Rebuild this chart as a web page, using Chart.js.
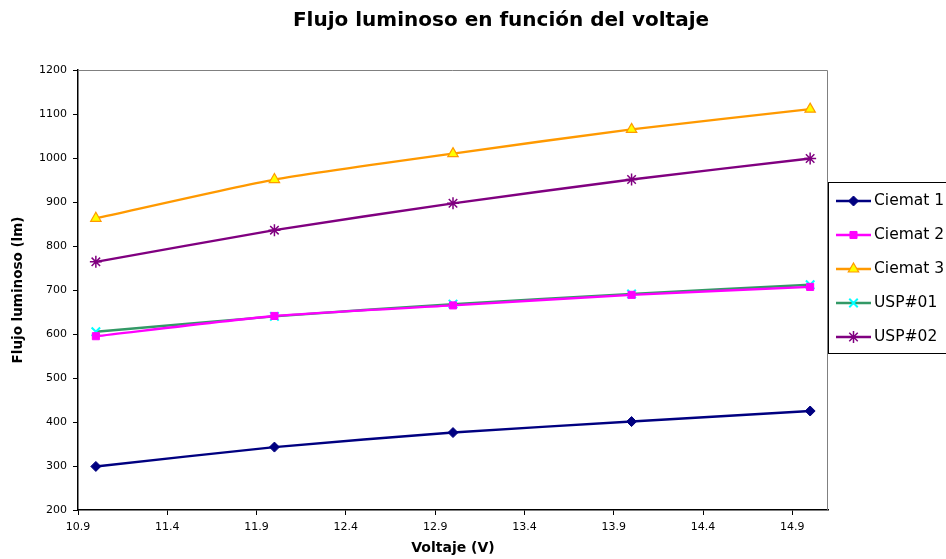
<!DOCTYPE html>
<html><head><meta charset="utf-8">
<script src="https://cdn.jsdelivr.net/npm/chart.js@4/dist/chart.umd.min.js"></script>
<style>html,body{margin:0;padding:0;background:#fff;}#wrap{width:946px;height:559px;position:relative;}</style>
</head><body><div id="wrap"><canvas id="c" width="946" height="559"></canvas></div>
<script>
const voltages = [11, 12, 13, 14, 15];
const ciemat1 = [299, 343, 376, 401, 425];
const ciemat2 = [595, 641, 665, 689, 707];
const ciemat3 = [863, 951, 1010, 1065, 1111];
const usp01 = [605, 640, 668, 691, 712];
const usp02 = [764, 836, 897, 951, 999];
const xTicks = [10.9, 11.4, 11.9, 12.4, 12.9, 13.4, 13.9, 14.4, 14.9];
const seriesNames = ['Ciemat 1', 'Ciemat 2', 'Ciemat 3', 'USP#01', 'USP#02'];
const chartTitle = 'Flujo luminoso en función del voltaje';

const FONT = '"DejaVu Sans", Verdana, sans-serif';
const pts = arr => arr.map((v, i) => ({x: voltages[i], y: v}));

const styles = [
  {line: '#000080', bg: '#000080', border: '#000080', shape: 'rectRot', r: 5, bw: 1},
  {line: '#FF00FF', bg: '#FF00FF', border: '#FF00FF', shape: 'rect', r: 5, bw: 1},
  {line: '#FF9900', bg: '#FFFF00', border: '#FF9900', shape: 'triangle', r: 6, bw: 1.2},
  {line: '#339966', bg: '#00FFFF', border: '#00FFFF', shape: 'crossRot', r: 6, bw: 2},
  {line: '#800080', bg: '#800080', border: '#800080', shape: 'star', r: 6, bw: 1.5}
];
const values = [ciemat1, ciemat2, ciemat3, usp01, usp02];

const datasets = values.map((v, i) => ({
  label: seriesNames[i],
  data: pts(v),
  borderColor: styles[i].line,
  borderWidth: 2.4,
  backgroundColor: styles[i].bg,
  pointBackgroundColor: styles[i].bg,
  pointBorderColor: styles[i].border,
  pointBorderWidth: styles[i].bw,
  pointStyle: styles[i].shape,
  pointRadius: styles[i].r,
  tension: 0.2,
  fill: false
}));

const frame = {
  id: 'frame',
  beforeDatasetsDraw(chart) {
    const {ctx, chartArea: a} = chart;
    ctx.save();
    ctx.strokeStyle = '#808080';
    ctx.lineWidth = 1;
    ctx.beginPath();
    ctx.moveTo(a.left, a.top + 0.5);
    ctx.lineTo(a.right - 0.5, a.top + 0.5);
    ctx.lineTo(a.right - 0.5, a.bottom);
    ctx.stroke();
    ctx.restore();
  },
  afterDraw(chart) {
    const ctx = chart.ctx;
    ctx.save();
    // title
    ctx.fillStyle = '#000';
    ctx.font = 'bold 20px ' + FONT;
    ctx.textAlign = 'center';
    ctx.textBaseline = 'middle';
    ctx.fillText(chartTitle, 501, 21);
    // legend
    const bx = 828.5, by = 182.5, bw = 130, bh = 171;
    ctx.fillStyle = '#fff';
    ctx.fillRect(bx, by, bw, bh);
    ctx.strokeStyle = '#000';
    ctx.lineWidth = 1;
    ctx.strokeRect(bx, by, bw, bh);
    chart.data.datasets.forEach((ds, i) => {
      const y = 201 + i * 34;
      ctx.strokeStyle = ds.borderColor;
      ctx.lineWidth = 2.4;
      ctx.beginPath();
      ctx.moveTo(836, y);
      ctx.lineTo(871, y);
      ctx.stroke();
      ctx.fillStyle = ds.pointBackgroundColor;
      ctx.strokeStyle = ds.pointBorderColor;
      ctx.lineWidth = ds.pointBorderWidth;
      Chart.helpers.drawPoint(ctx, {pointStyle: ds.pointStyle, radius: ds.pointRadius, borderWidth: ds.pointBorderWidth, rotation: 0}, 853.5, y);
      ctx.fillStyle = '#000';
      ctx.font = '15.5px ' + FONT;
      ctx.textBaseline = 'middle';
      ctx.textAlign = 'left';
      ctx.fillText(ds.label, 874, y);
    });
    ctx.restore();
  }
};

new Chart(document.getElementById('c'), {
  type: 'line',
  data: {datasets},
  plugins: [frame],
  options: {
    responsive: false,
    animation: false,
    layout: {padding: {left: 0, right: 118, top: 70, bottom: 0}},
    plugins: {
      legend: {display: false},
      tooltip: {enabled: false},
      title: {display: false}
    },
    scales: {
      x: {
        type: 'linear',
        min: 10.9, max: 15.1,
        afterBuildTicks(scale) { scale.ticks = xTicks.map(v => ({value: v})); },
        afterFit(scale) { scale.height = 49; },
        ticks: {
          color: '#000', font: {family: FONT, size: 11}, padding: 6,
          callback: v => v.toFixed(1), autoSkip: false, maxRotation: 0
        },
        grid: {display: true, drawOnChartArea: false, drawTicks: true, tickLength: 5, color: '#000'},
        border: {display: true, color: '#000', width: 1.5},
        title: {display: true, text: 'Voltaje (V)', color: '#000', font: {family: FONT, size: 14, weight: 'bold'}, padding: {top: 4, bottom: 2}}
      },
      y: {
        min: 200, max: 1200,
        afterFit(scale) { scale.width = 78; },
        ticks: {stepSize: 100, color: '#000', font: {family: FONT, size: 11}, padding: 6, callback: v => String(v)},
        grid: {display: true, drawOnChartArea: false, drawTicks: true, tickLength: 5, color: '#000'},
        border: {display: true, color: '#000', width: 1.5},
        title: {display: true, text: 'Flujo luminoso (lm)', color: '#000', font: {family: FONT, size: 13.5, weight: 'bold'}, padding: {top: 10, bottom: 4}}
      }
    }
  }
});
</script></body></html>
